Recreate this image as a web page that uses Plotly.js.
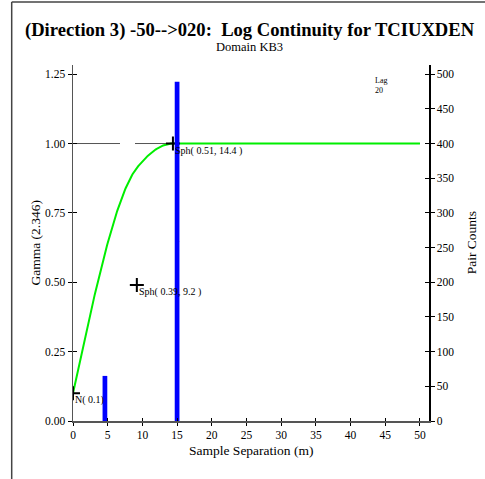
<!DOCTYPE html>
<html>
<head>
<meta charset="utf-8">
<script src="https://cdn.plot.ly/plotly-3.0.1.min.js"></script>
<style>
  html, body { margin: 0; padding: 0; background: #fff; }
  #chart { width: 485px; height: 479px; }
</style>
</head>
<body>
<div id="chart"></div>
<script>
// Experimental lags: separation (m) and number of pairs
const lagDistance = [4.6, 15.0];
const pairCounts = [65, 489];

// Experimental gamma values shown as points
const gammaDistance = [15.0];
const gammaValue = [0.648];

// Fitted model: nugget plus two spherical structures
const nugget = 0.1;
const sphSill = [0.39, 0.51];
const sphRange = [9.2, 14.4];
const structureLabels = ['N( 0.1)', 'Sph( 0.39, 9.2 )', 'Sph( 0.51, 14.4 )'];

const lagLabel = 'Lag<br>20';
const xMax = 51.3, yMax = 1.283, pairScale = 400;

// Evaluate the variogram model along the separation axis
function sph(h, a) {
  if (h >= a) return 1;
  const r = h / a;
  return 1.5 * r - 0.5 * r * r * r;
}
const modelH = [], modelG = [];
for (let h = 0; h <= 50.0001; h += 0.1) {
  let g = nugget;
  for (let i = 0; i < sphSill.length; i++) g += sphSill[i] * sph(h, sphRange[i]);
  modelH.push(+h.toFixed(2));
  modelG.push(g);
}

// Structure markers: at the nugget and at each range, cumulative sill
const markX = [0], markY = [nugget];
let cum = nugget;
for (let i = 0; i < sphSill.length; i++) { cum += sphSill[i]; markX.push(sphRange[i]); markY.push(cum); }

const serif = '"Liberation Serif", "Times New Roman", serif';

const traces = [
  { type: 'bar', x: lagDistance, y: pairCounts, xaxis: 'x', yaxis: 'y2',
    width: 0.68, marker: { color: '#0000ff', line: { width: 0 } }, hoverinfo: 'skip' },
  { type: 'scatter', mode: 'lines', x: modelH, y: modelG, xaxis: 'x', yaxis: 'y',
    line: { color: '#00ee00', width: 2 }, hoverinfo: 'skip' },
  { type: 'scatter', mode: 'markers', x: gammaDistance, y: gammaValue, xaxis: 'x', yaxis: 'y',
    marker: { color: '#ff0000', size: 4 }, hoverinfo: 'skip' },
  { type: 'scatter', mode: 'markers', x: markX, y: markY, xaxis: 'x', yaxis: 'y',
    marker: { symbol: 'cross-thin', size: 10, line: { color: '#000', width: 2 } }, hoverinfo: 'skip' },
  // empty traces that carry the inner tick marks
  { type: 'scatter', x: [], y: [], xaxis: 'x2', yaxis: 'y3', hoverinfo: 'skip' },
  { type: 'scatter', x: [], y: [], xaxis: 'x2', yaxis: 'y4', hoverinfo: 'skip' }
];

const tickFont = { family: serif, size: 11.5, color: '#000' };
const baseX = { range: [0, xMax], dtick: 5, tick0: 0, showgrid: false, zeroline: false, fixedrange: true };
const baseY = { range: [0, yMax], showgrid: false, zeroline: false, fixedrange: true };

const annotations = structureLabels.map((t, i) => ({
  x: markX[i], y: markY[i], xref: 'x', yref: 'y', text: t, showarrow: false,
  xanchor: 'left', yanchor: 'top', xshift: 0, yshift: 1,
  font: { family: serif, size: 10, color: '#000' }
}));
annotations.push(
  { x: 43.2, y: 1.209, xref: 'x', yref: 'y', text: lagLabel, showarrow: false, align: 'left',
    xanchor: 'left', yanchor: 'middle', font: { family: serif, size: 8, color: '#000' } },
  { x: 0.497, y: 1.097, xref: 'paper', yref: 'paper', showarrow: false,
    text: '<b>(Direction 3) -50-->020:  Log Continuity for TCIUXDEN</b>',
    xanchor: 'center', yanchor: 'middle', font: { family: serif, size: 18.6, color: '#000' } },
  { x: 0.497, y: 1.051, xref: 'paper', yref: 'paper', showarrow: false, text: 'Domain KB3',
    xanchor: 'center', yanchor: 'middle', font: { family: serif, size: 12.5, color: '#000' } },
  { x: -0.108, y: 0.5, xref: 'paper', yref: 'paper', showarrow: false, text: 'Gamma (2.346)',
    textangle: -90, xanchor: 'center', yanchor: 'middle', font: { family: serif, size: 13.5, color: '#000' } },
  { x: 1.119, y: 0.5, xref: 'paper', yref: 'paper', showarrow: false, text: 'Pair Counts',
    textangle: -90, xanchor: 'center', yanchor: 'middle', font: { family: serif, size: 13.5, color: '#000' } },
  { x: 0.5, y: -0.083, xref: 'paper', yref: 'paper', showarrow: false, text: 'Sample Separation (m)',
    xanchor: 'center', yanchor: 'middle', font: { family: serif, size: 13.5, color: '#000' } }
);

const layout = {
  width: 485, height: 479,
  margin: { l: 73, r: 56, t: 65, b: 58, pad: 0 },
  paper_bgcolor: '#fff', plot_bgcolor: '#fff',
  showlegend: false, barmode: 'overlay',
  xaxis: Object.assign({}, baseX, {
    anchor: 'y', showline: true, linecolor: '#555', linewidth: 1.5,
    ticks: 'outside', ticklen: 3, tickwidth: 1, tickcolor: '#000',
    tickfont: tickFont, showticklabels: true
  }),
  xaxis2: Object.assign({}, baseX, {
    overlaying: 'x', anchor: 'y3', side: 'bottom', showline: false,
    ticks: 'inside', ticklen: 3, tickwidth: 1, tickcolor: '#000', showticklabels: false
  }),
  yaxis: Object.assign({}, baseY, {
    anchor: 'x', side: 'left', dtick: 0.25, tick0: 0, tickformat: '.2f',
    showline: true, linecolor: '#555', linewidth: 1.5,
    ticks: 'outside', ticklen: 4, tickwidth: 1, tickcolor: '#000', tickfont: tickFont
  }),
  yaxis2: {
    range: [0, yMax * pairScale], overlaying: 'y', anchor: 'x', side: 'right',
    dtick: 50, tick0: 0, showgrid: false, zeroline: false, fixedrange: true,
    showline: true, linecolor: '#000', linewidth: 1.5,
    ticks: 'outside', ticklen: 4, tickwidth: 1, tickcolor: '#000', tickfont: tickFont
  },
  yaxis3: Object.assign({}, baseY, {
    overlaying: 'y', anchor: 'x2', side: 'left', dtick: 0.25, tick0: 0,
    showline: false, ticks: 'inside', ticklen: 4, tickwidth: 1, tickcolor: '#000', showticklabels: false
  }),
  yaxis4: {
    range: [0, yMax * pairScale], overlaying: 'y', anchor: 'x2', side: 'right',
    dtick: 50, tick0: 0, showgrid: false, zeroline: false, fixedrange: true,
    showline: false, ticks: 'inside', ticklen: 4, tickwidth: 1, tickcolor: '#000', showticklabels: false
  },
  shapes: [
    // sill reference line
    { type: 'line', xref: 'x', yref: 'y', x0: 0, x1: 14.4, y0: 1, y1: 1, layer: 'below',
      line: { color: '#555', width: 1, dash: '47px,15px' } },
    // page frame
    { type: 'line', xref: 'paper', yref: 'paper', x0: -0.1722, x1: -0.1722, y0: 1.1771, y1: -0.3,
      line: { color: '#444', width: 1.5 } },
    { type: 'line', xref: 'paper', yref: 'paper', x0: -0.1722, x1: 1.3, y0: 1.1771, y1: 1.1771,
      line: { color: '#444', width: 1.5 } }
  ],
  annotations: annotations
};

Plotly.newPlot('chart', traces, layout, { staticPlot: true, displayModeBar: false });
</script>
</body>
</html>
